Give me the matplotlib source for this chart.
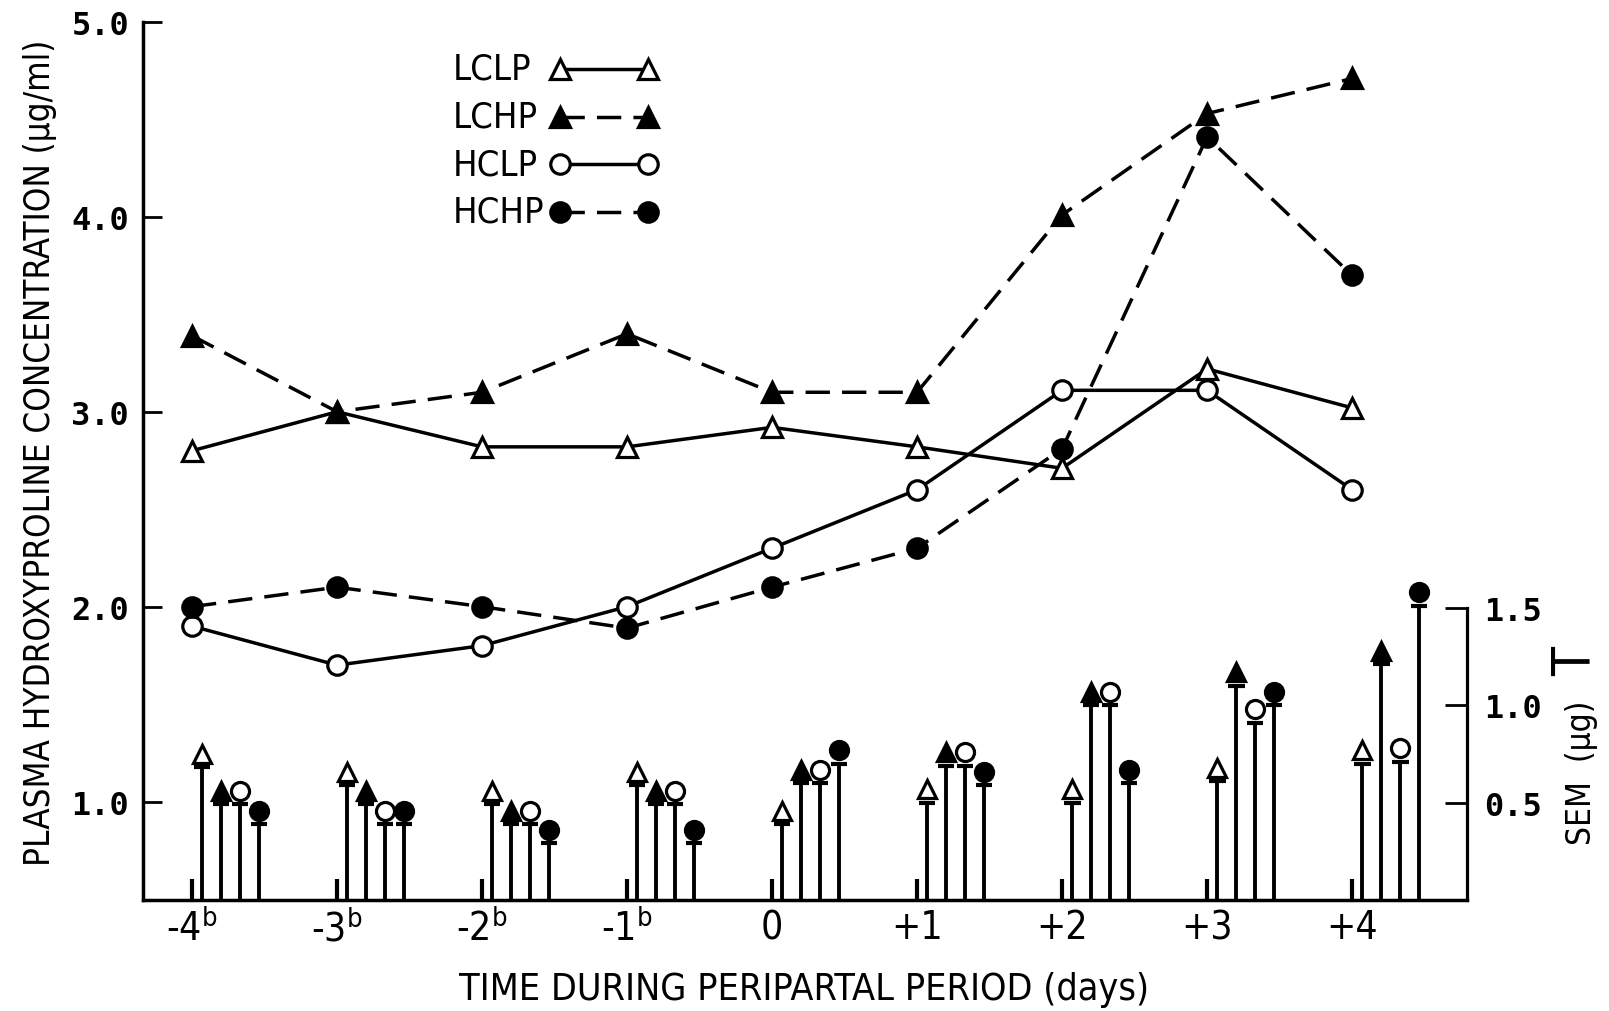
import matplotlib
matplotlib.use('Agg')
import matplotlib.pyplot as plt
from matplotlib import font_manager

# days around parturition
days = [-4, -3, -2, -1, 0, 1, 2, 3, 4]
day_labels = ['-4$^{b}$', '-3$^{b}$', '-2$^{b}$', '-1$^{b}$', '0', '+1', '+2', '+3', '+4']

# plasma hydroxyproline (ug/ml)
lclp = [2.80, 3.00, 2.82, 2.82, 2.92, 2.82, 2.71, 3.22, 3.02]
lchp = [3.39, 3.00, 3.10, 3.40, 3.10, 3.10, 4.01, 4.53, 4.71]
hclp = [1.90, 1.70, 1.80, 2.00, 2.30, 2.60, 3.11, 3.11, 2.60]
hchp = [2.00, 2.10, 2.00, 1.89, 2.10, 2.30, 2.81, 4.41, 3.70]

# SEM (ug)
sem_lclp = [0.68, 0.59, 0.49, 0.59, 0.39, 0.50, 0.50, 0.61, 0.70]
sem_lchp = [0.49, 0.49, 0.39, 0.49, 0.60, 0.69, 1.00, 1.10, 1.21]
sem_hclp = [0.49, 0.39, 0.39, 0.49, 0.60, 0.69, 1.00, 0.91, 0.71]
sem_hchp = [0.39, 0.39, 0.29, 0.29, 0.70, 0.59, 0.60, 1.00, 1.51]

names = ['LCLP', 'LCHP', 'HCLP', 'HCHP']

# a condensed sans if there is one, else Liberation Sans
cond = [f for f in font_manager.fontManager.ttflist
        if f.style == 'normal' and f.weight in (400, 'normal', 'regular')
        and (f.stretch in ('condensed', 'semi-condensed') or 'Narrow' in f.name
             or 'Condensed' in f.name) and 'Mono' not in f.name and 'Serif' not in f.name]
if cond:
    narrow = font_manager.FontProperties(fname=cond[0].fname)
else:
    narrow = font_manager.FontProperties(family='Liberation Sans')
mono = font_manager.FontProperties(family='DejaVu Sans Mono', weight='bold')
plt.rcParams['mathtext.fontset'] = 'custom'
plt.rcParams['mathtext.rm'] = narrow.get_name()
plt.rcParams['mathtext.default'] = 'regular'


def nf(size):
    p = narrow.copy()
    p.set_size(size)
    return p


fig = plt.figure(figsize=(16.09, 10.12), dpi=100)
ax = fig.add_axes([0.0889, 0.1097, 0.8229, 0.8676])
ax2 = ax.twinx()

ax.set_xlim(-4.338, 4.793)
ax.set_ylim(0.495, 5.0)
ax2.set_ylim(0, 4.505)

lw = 2.5
dash = (0, (7, 3.5))
styles = [('^', 'white', '-'), ('^', 'black', dash), ('o', 'white', '-'), ('o', 'black', dash)]
series = [lclp, lchp, hclp, hchp]
sems = [sem_lclp, sem_lchp, sem_hclp, sem_hchp]
offsets = [0.069, 0.20, 0.331, 0.462]

leg_y = [0.9465, 0.892, 0.838, 0.784]
for i, (vals, (mk, fc, ls)) in enumerate(zip(series, styles)):
    kw = dict(color='black', lw=lw, linestyle=ls, marker=mk, ms=14,
              mfc=fc, mec='black', mew=2.3)
    ax.plot(days, vals, zorder=4, **kw)
    # legend row
    ax.plot([0.315, 0.381], [leg_y[i], leg_y[i]], transform=ax.transAxes,
            clip_on=False, **kw)
    ax.text(0.234, leg_y[i], names[i], transform=ax.transAxes, ha='left',
            va='center', fontproperties=nf(26))

    # SEM stems
    xs = [d + offsets[i] for d in days]
    ax2.vlines(xs, 0, sems[i], color='black', lw=2.8)
    ax2.hlines(sems[i], [x - 0.058 for x in xs], [x + 0.058 for x in xs],
               color='black', lw=3)
    ax2.plot(xs, [s + 0.068 for s in sems[i]], linestyle='none', marker=mk,
             ms=13, mfc=fc, mec='black', mew=2.3, clip_on=False)

for a in (ax, ax2):
    a.spines['top'].set_visible(False)
ax.spines['right'].set_visible(False)
ax2.spines['left'].set_visible(False)
ax2.spines['bottom'].set_visible(False)
ax2.spines['right'].set_bounds(0, 1.5)
for s in ('left', 'bottom'):
    ax.spines[s].set_linewidth(2.5)
ax2.spines['right'].set_linewidth(2.3)

mono.set_size(23)
ax.set_yticks([1, 2, 3, 4, 5])
ax.set_yticklabels(['1.0', '2.0', '3.0', '4.0', '5.0'], fontproperties=mono)
ax.tick_params(axis='y', direction='in', length=14, width=2, pad=10)
ax.set_xticks(days)
ax.set_xticklabels(day_labels, fontproperties=nf(28))
ax.tick_params(axis='x', direction='in', length=15, width=3, pad=6)

ax2.set_yticks([0.5, 1.0, 1.5])
ax2.set_yticklabels(['0.5', '1.0', '1.5'], fontproperties=mono)
ax2.tick_params(axis='y', direction='in', length=16, width=2, pad=12)

fig.text(0.0246, 0.5524, 'PLASMA HYDROXYPROLINE CONCENTRATION (µg/ml)', rotation=90,
         ha='center', va='center', fontproperties=nf(25))
fig.text(0.4997, 0.0217, 'TIME DURING PERIPARTAL PERIOD (days)', ha='center',
         va='center', fontproperties=nf(27))
fig.text(0.9826, 0.236, 'SEM  (µg)', rotation=90, ha='center', va='center',
         fontproperties=nf(24))
fig.text(0.979, 0.346, 'T', rotation=90, ha='center', va='center',
         fontproperties=nf(38))

fig.savefig('out.png', dpi=100)
